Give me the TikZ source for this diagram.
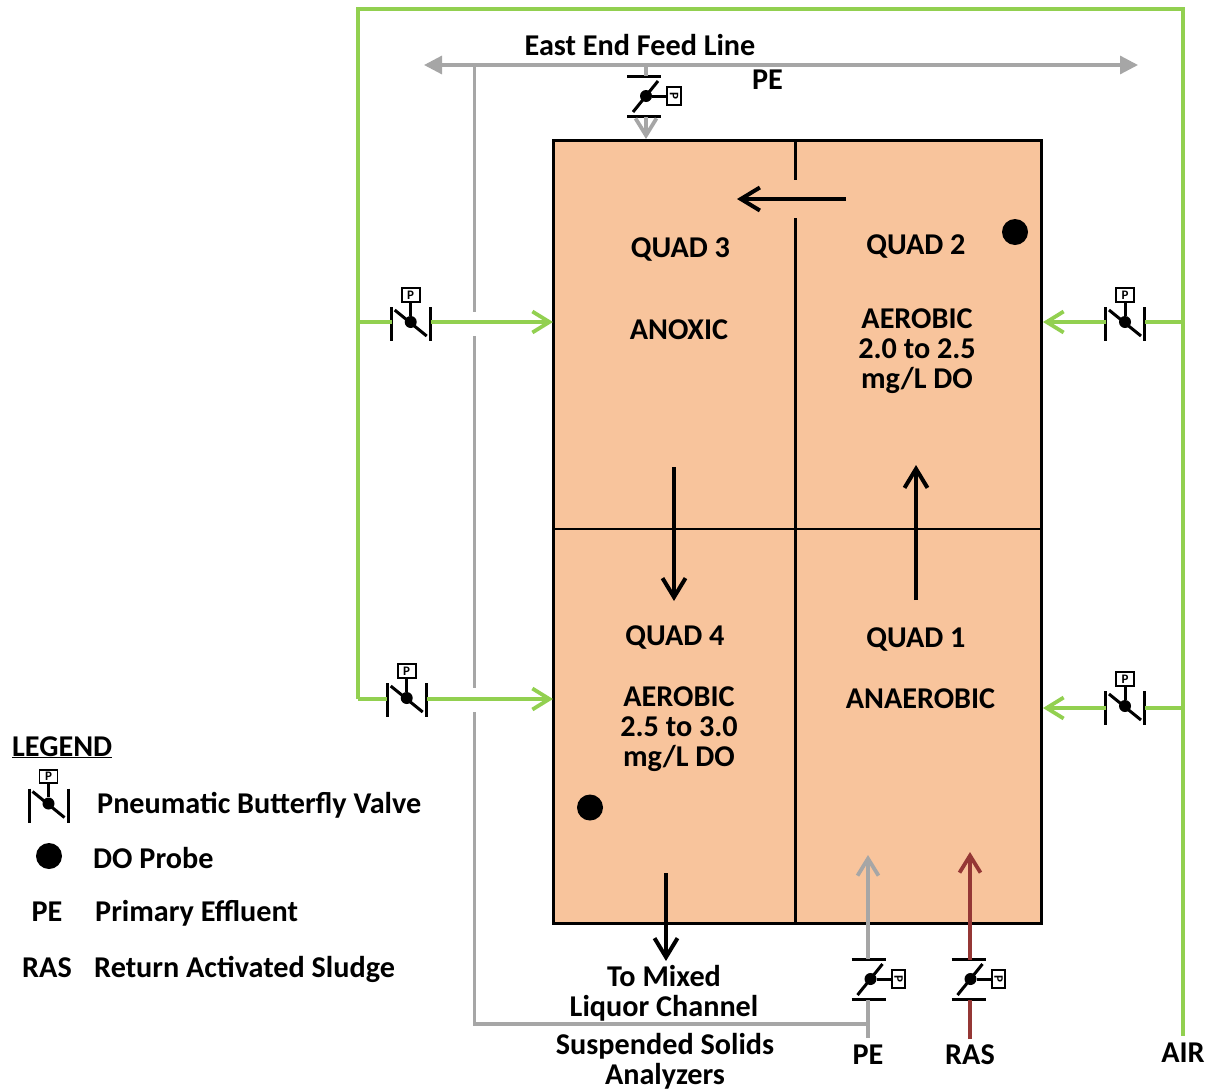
\documentclass[tikz,border=0pt]{standalone}
\usepackage{fontspec}
\setmainfont{Carlito}
\usetikzlibrary{arrows.meta}
\definecolor{airgreen}{HTML}{92D050}
\definecolor{pegray}{HTML}{A6A6A6}
\definecolor{rasbrown}{HTML}{953735}
\definecolor{tankfill}{HTML}{F8C49C}
\tikzset{
  lbl/.style={font=\fontsize{30.2}{30}\selectfont\bfseries,inner sep=0pt,align=center,text=black},
  lblL/.style={lbl,anchor=base west},
  lblC/.style={lbl,anchor=base},
  airline/.style={draw=airgreen,line width=3.8pt},
  peline/.style={draw=pegray,line width=3.2pt},
  rasline/.style={draw=rasbrown,line width=3.6pt},
  open/.style={-{Straight Barb[length=17pt,width=21pt,line width=3.8pt]}},
  flow/.style={draw=black,line width=4pt,-{Straight Barb[length=19pt,width=23pt,line width=4pt]}},
  solid arrows/.style={{Triangle[length=18pt,width=18pt]}-{Triangle[length=18pt,width=18pt]}},
  vpart/.style={draw=black,line width=3pt},
  pbox/.style={draw=black,fill=white,line width=1.6pt,minimum width=18pt,minimum height=13.5pt,inner sep=0pt,font=\fontsize{13}{13}\selectfont\bfseries},
  probe/.style={circle,fill=black,minimum size=26pt,inner sep=0pt},
  hub/.style={circle,fill=black,minimum size=12pt,inner sep=0pt},
  hvalve/.pic={
    \coordinate (-in) at (-20,0);
    \coordinate (-out) at (20,0);
    \draw[vpart] (-19.5,-15)--(-19.5,19);
    \draw[vpart] (19.5,-15)--(19.5,19);
    \draw[vpart] (-16,-12)--(16,14);
    \node[hub] (-hub) at (0,0) {};
    \node[pbox] (-box) at (0,-27) {P};
    \draw[vpart] (-hub)--(-box);
  },
  vvalve/.pic={
    \coordinate (-in) at (0,20);
    \coordinate (-out) at (0,-20);
    \draw[vpart] (-19,-19.5)--(15,-19.5);
    \draw[vpart] (-19,20)--(15,20);
    \draw[vpart] (-13,16)--(12,-15);
    \node[hub] (-hub) at (0,0) {};
    \node[pbox,rotate=-90] (-box) at (28,0) {P};
    \draw[vpart] (-hub)--(-box);
  },
}
\begin{document}
\begin{tikzpicture}[x=1pt,y=-1pt]
\useasboundingbox (0,0) rectangle (1206,1090);
% tank
\node[draw=black,fill=tankfill,line width=3pt,minimum width=488pt,minimum height=783pt,inner sep=0pt] (tank) at (797.7,531.5) {};
\coordinate (midtop) at (795.5,140);
\coordinate (midgapA) at (795.5,180);
\coordinate (midgapB) at (795.5,218);
\coordinate (midbot) at (795.5,923);
\coordinate (hl) at (554,529);
\coordinate (hr) at (1042,529);
\draw[black,line width=2.8pt] (midtop)--(midgapA) (midgapB)--(midbot) (hl)--(hr);
% air main
\coordinate (airL2) at (358,699);
\coordinate (airL1) at (358,322);
\coordinate (airTL) at (358,9);
\coordinate (airTR) at (1183,9);
\coordinate (airR1) at (1183,322);
\coordinate (airR2) at (1183,708);
\coordinate (airEnd) at (1183,1036);
\draw[airline,line join=miter] (airL2)--(airTL)--(airTR)--(airEnd);
% PE feed
\coordinate (feedW) at (424,65);
\coordinate (feedE) at (1138,65);
\coordinate (riserT) at (474.5,65);
\coordinate (riserA) at (474.5,312);
\coordinate (riserB) at (474.5,336);
\coordinate (riserC) at (474.5,688);
\coordinate (riserD) at (474.5,712);
\coordinate (riserE) at (474.5,1024);
\coordinate (peJ) at (868,1024);
\coordinate (peS) at (868,1038);
\coordinate (rasS) at (970,1039);
\coordinate (peTip) at (868,855);
\coordinate (rasTip) at (970,852);
\coordinate (feedV) at (646,65);
\coordinate (tankIn) at (646,139);
\draw[peline,solid arrows] (feedW)--(feedE);
\draw[peline] (riserT)--(riserA) (riserB)--(riserC) (riserD)--(riserE)--(peJ);
% valves
\pic (v3) at (410.7,322) {hvalve};
\pic (v4) at (406.7,698) {hvalve};
\pic (v2) at (1125,322) {hvalve};
\pic (v1) at (1125,706) {hvalve};
\pic (vlegend) at (48.5,803.5) {hvalve};
\pic (vfeed) at (646,96) {vvalve};
\pic (vpe) at (870.5,979) {vvalve};
\pic (vras) at (970.5,979) {vvalve};
% air branches
\coordinate (t3) at (553,322);
\coordinate (t4) at (553,699);
\coordinate (t2) at (1043,322);
\coordinate (t1) at (1043,708);
\draw[airline] (airL1)--(392,322);
\draw[airline,open] (431,322)--(t3);
\draw[airline] (airL2)--(387,699);
\draw[airline,open] (427,699)--(t4);
\draw[airline,open] (1106,322)--(t2);
\draw[airline] (1145,322)--(airR1);
\draw[airline,open] (1106,708)--(t1);
\draw[airline] (1145,708)--(airR2);
% PE, RAS
\draw[peline] (feedV)--(646,76);
\draw[peline,open] (646,117)--(tankIn);
\draw[peline] (peS)--(868,1000);
\draw[peline,open] (868,959)--(peTip);
\draw[rasline] (rasS)--(970,1000);
\draw[rasline,open] (970,960)--(rasTip);
% flow arrows
\coordinate (f1a) at (846,199); \coordinate (f1b) at (737,199);
\coordinate (f2a) at (674,467); \coordinate (f2b) at (674,601);
\coordinate (f3a) at (916,600); \coordinate (f3b) at (916,465);
\coordinate (f4a) at (666,873); \coordinate (f4b) at (666,961);
\draw[flow] (f1a)--(f1b);
\draw[flow] (f2a)--(f2b);
\draw[flow] (f3a)--(f3b);
\draw[flow] (f4a)--(f4b);
% probes
\node[probe] (p2) at (1015,232) {};
\node[probe] (p4) at (590,807.5) {};
\node[probe] (pl) at (49,856) {};
% text
\node[lblC] (feedlbl) at (640,55) {East End Feed Line};
\node[lblC] (pelbl) at (767.5,89) {PE};
\node[lblC] (q3) at (680.5,257) {QUAD 3};
\node[lblC] (q3t) at (679,339) {ANOXIC};
\node[lblC] (q2) at (916,254) {QUAD 2};
\node[lbl] (q2t) at (917,351.5) {AEROBIC\\2.0 to 2.5\\mg/L DO};
\node[lblC] (q4) at (675,645) {QUAD 4};
\node[lbl] (q4t) at (679,729) {AEROBIC\\2.5 to 3.0\\mg/L DO};
\node[lblC] (q1) at (916,647.5) {QUAD 1};
\node[lblC] (q1t) at (920.5,708.5) {ANAEROBIC};
\node[lbl] (mix) at (664,993.5) {To Mixed\\Liquor Channel};
\node[lbl] (ssa) at (665,1061.5) {Suspended Solids\\Analyzers};
\node[lblC] (pes) at (868,1064.5) {PE};
\node[lblC] (rass) at (970,1064.5) {RAS};
\node[lblC] (airs) at (1183,1062) {AIR};
\node[lblL] (leg) at (12,756) {\underline{LEGEND}};
\node[lblL] (l1) at (97,813) {Pneumatic Butterfly Valve};
\node[lblL] (l2) at (93,868) {DO Probe};
\node[lblC] (l3a) at (47,921) {PE};
\node[lblL] (l3) at (95,921) {Primary Effluent};
\node[lblC] (l4a) at (47,977) {RAS};
\node[lblL] (l4) at (94,977) {Return Activated Sludge};
\end{tikzpicture}
\end{document}
